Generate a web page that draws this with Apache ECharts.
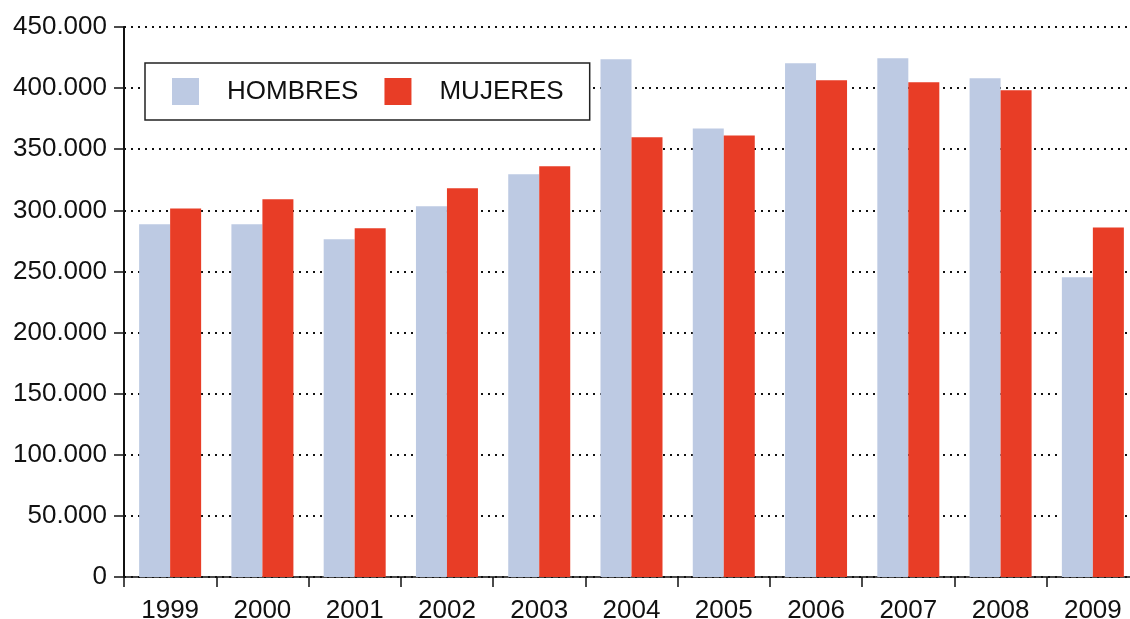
<!DOCTYPE html>
<html>
<head>
<meta charset="utf-8">
<script src="https://cdn.jsdelivr.net/npm/echarts@6/dist/echarts.min.js"></script>
<style>
  html, body { margin: 0; padding: 0; background: #fff; }
  #chart { width: 1130px; height: 619px; }
</style>
</head>
<body>
<div id="chart"></div>
<script>
// Years on the category axis
const years = ['1999', '2000', '2001', '2002', '2003', '2004', '2005', '2006', '2007', '2008', '2009'];
// Annual totals by sex
const hombres = [288600, 288600, 276300, 303300, 329500, 423600, 367000, 420300, 424400, 408000, 245200];
const mujeres = [301400, 309000, 285300, 318000, 336000, 359800, 361300, 406400, 404700, 398200, 286000];
const seriesNames = ['HOMBRES', 'MUJERES'];
const colors = ['#BDCAE3', '#E83D26'];

const FONT = '"Liberation Sans", Arial, Helvetica, sans-serif';

// 450000 -> "450.000"
function fmt(v) {
  return String(v).replace(/\B(?=(\d{3})+(?!\d))/g, '.');
}

const chart = echarts.init(document.getElementById('chart'), null, { renderer: 'canvas' });

chart.setOption({
  animation: false,
  backgroundColor: '#ffffff',
  color: colors,
  // the last year's slot runs past the right edge of the canvas
  grid: { left: 124, top: 27, width: 1015, height: 550, containLabel: false, outerBoundsMode: 'none' },
  legend: {
    left: 145,
    top: 63,
    orient: 'horizontal',
    padding: [15, 26, 15, 27],
    itemWidth: 27,
    itemHeight: 27,
    itemGap: 26,
    borderColor: '#222',
    borderWidth: 1.5,
    backgroundColor: '#fff',
    icon: 'rect',
    data: seriesNames,
    textStyle: {
      fontFamily: FONT,
      fontSize: 26,
      color: '#111',
      padding: [0, 0, 0, 23]
    }
  },
  xAxis: {
    type: 'category',
    data: years,
    boundaryGap: true,
    axisLine: { show: true, lineStyle: { color: '#111', width: 1.5 } },
    axisTick: { show: true, inside: false, length: 10, alignWithLabel: false, lineStyle: { color: '#111', width: 1.5 } },
    axisLabel: { fontFamily: FONT, fontSize: 26, color: '#111', margin: 21 },
    splitLine: { show: false }
  },
  yAxis: {
    type: 'value',
    min: 0,
    max: 450000,
    interval: 50000,
    axisLine: { show: true, lineStyle: { color: '#111', width: 2 } },
    axisTick: { show: true, inside: false, length: 10, lineStyle: { color: '#111', width: 1.5 } },
    axisLabel: { fontFamily: FONT, fontSize: 26, color: '#111', margin: 17, formatter: fmt },
    splitLine: { show: true, lineStyle: { color: '#111', width: 2, type: [2, 5] } }
  },
  series: [
    {
      name: seriesNames[0],
      type: 'bar',
      data: hombres,
      barWidth: 31,
      barGap: '0%',
      itemStyle: { color: colors[0] }
    },
    {
      name: seriesNames[1],
      type: 'bar',
      data: mujeres,
      barWidth: 31,
      barGap: '0%',
      itemStyle: { color: colors[1] }
    }
  ]
});
</script>
</body>
</html>
